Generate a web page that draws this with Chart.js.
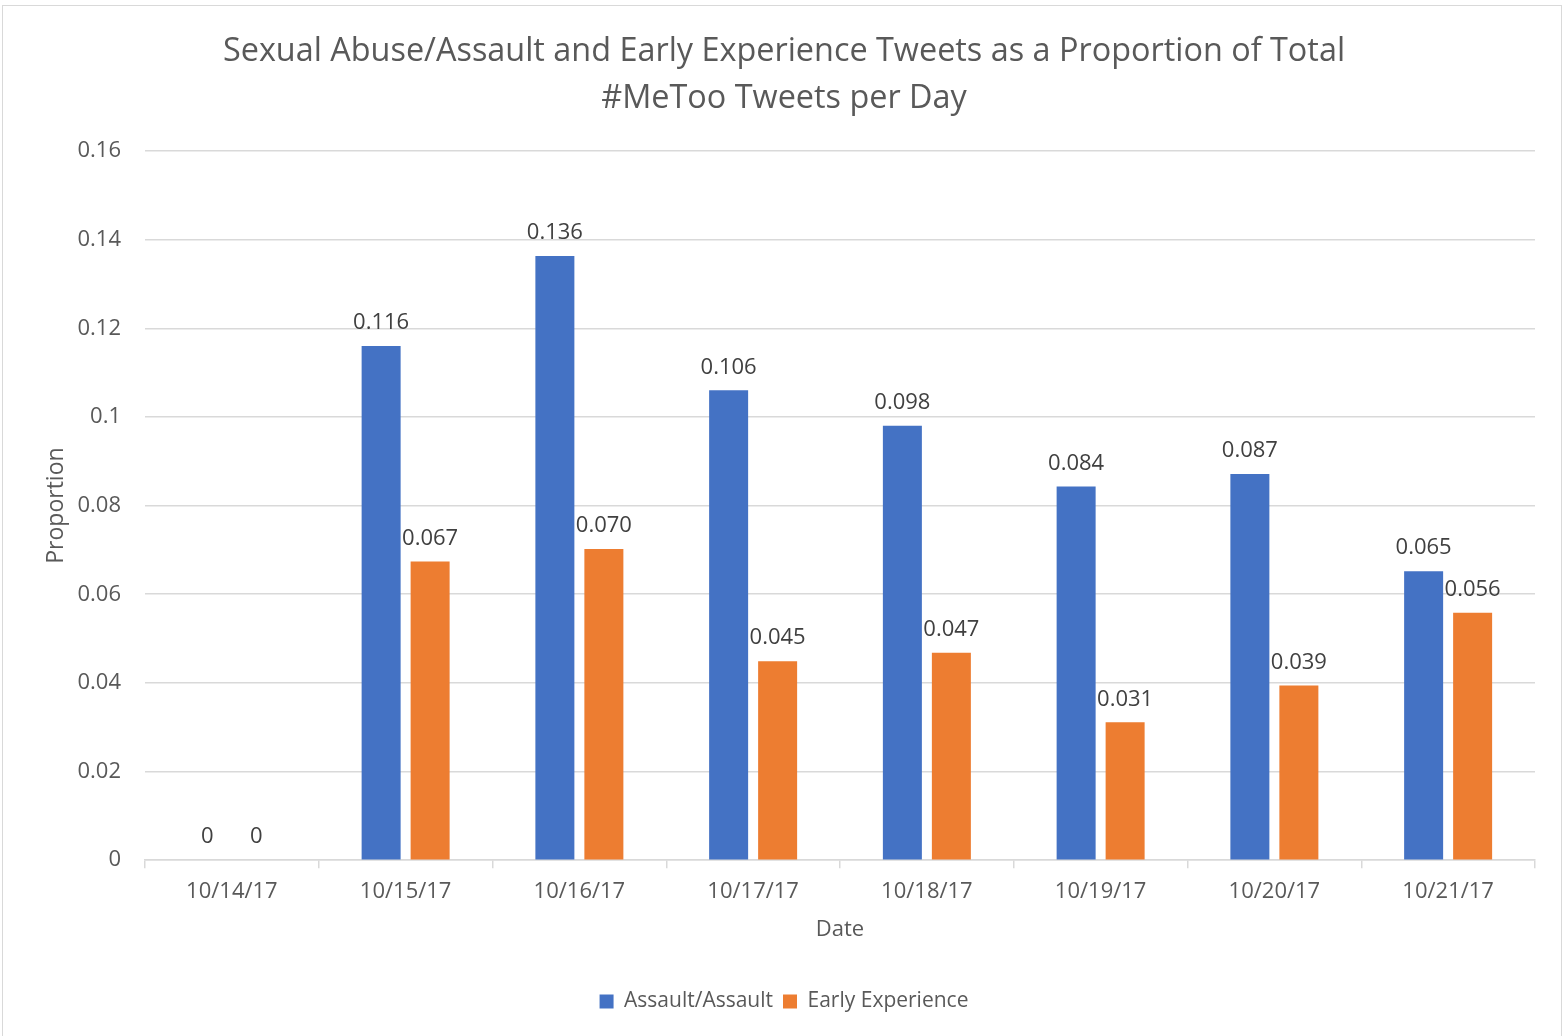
<!DOCTYPE html>
<html>
<head>
<meta charset="utf-8">
<script src="https://cdn.jsdelivr.net/npm/chart.js@4"></script>
<style>
  html, body { margin: 0; padding: 0; background: #ffffff; }
  #wrap { position: absolute; left: 0; top: 0; width: 1568px; height: 1036px; }
  #frame { position: absolute; left: 2px; top: 5px; width: 1560px; height: 1040px; border: 1px solid #d9d9d9; box-sizing: border-box; pointer-events: none; }
</style>
</head>
<body>
<div id="wrap"><canvas id="c"></canvas></div>
<div id="frame"></div>
<script>
const titleLines = ['Sexual Abuse/Assault and Early Experience Tweets as a Proportion of Total', '#MeToo Tweets per Day'];
const categories = ['10/14/17', '10/15/17', '10/16/17', '10/17/17', '10/18/17', '10/19/17', '10/20/17', '10/21/17'];
const seriesNames = ['Assault/Assault', 'Early Experience'];
const assaultValues = [0, 0.116, 0.1363, 0.106, 0.098, 0.0843, 0.0871, 0.0652];
const earlyValues = [0, 0.0674, 0.0702, 0.0449, 0.0468, 0.0311, 0.0394, 0.0558];
const yTickLabels = ['0', '0.02', '0.04', '0.06', '0.08', '0.1', '0.12', '0.14', '0.16'];
const xAxisTitle = 'Date';
const yAxisTitle = 'Proportion';

const FONT = "'Open Sans', 'DejaVu Sans', sans-serif";

const dataLabelPlugin = {
  id: 'dataLabels',
  afterDatasetsDraw(chart) {
    const ctx = chart.ctx;
    ctx.save();
    ctx.font = '22px ' + FONT;
    ctx.fillStyle = '#404040';
    ctx.textAlign = 'center';
    ctx.textBaseline = 'middle';
    chart.data.datasets.forEach((ds, di) => {
      const meta = chart.getDatasetMeta(di);
      meta.data.forEach((el, i) => {
        const v = ds.data[i];
        const txt = v === 0 ? '0' : v.toFixed(3);
        ctx.fillText(txt, el.x, el.y - 23);
      });
    });
    ctx.restore();
  }
};

new Chart(document.getElementById('c'), {
  type: 'bar',
  data: {
    labels: categories,
    datasets: [
      { label: seriesNames[0], data: assaultValues, backgroundColor: '#4472C4', borderWidth: 0,
        categoryPercentage: 0.564, barPercentage: 0.796 },
      { label: seriesNames[1], data: earlyValues, backgroundColor: '#ED7D31', borderWidth: 0,
        categoryPercentage: 0.564, barPercentage: 0.796 }
    ]
  },
  options: {
    responsive: true,
    maintainAspectRatio: false,
    animation: false,
    layout: { padding: { left: 33, right: 33, top: 0, bottom: 14 } },
    plugins: {
      title: {
        display: true,
        text: titleLines,
        color: '#595959',
        font: { family: FONT, size: 32.4, weight: 'normal', lineHeight: 1.45 },
        padding: { top: 28, bottom: 29 }
      },
      legend: {
        display: true,
        position: 'bottom',
        labels: {
          color: '#595959',
          font: { family: FONT, size: 21 },
          boxWidth: 14,
          boxHeight: 14,
          padding: 10
        }
      },
      tooltip: { enabled: false }
    },
    scales: {
      x: {
        grid: { display: true, drawOnChartArea: false, drawTicks: true, tickLength: 8, color: '#d9d9d9', lineWidth: 1.5, offset: true },
        border: { display: true, color: '#d9d9d9', width: 1.5 },
        ticks: { color: '#595959', font: { family: FONT, size: 22 }, padding: 10, maxRotation: 0 },
        title: { display: true, text: xAxisTitle, color: '#595959', font: { family: FONT, size: 22 }, padding: { top: 2, bottom: 38 } }
      },
      y: {
        min: 0,
        max: 0.16,
        ticks: {
          stepSize: 0.02,
          color: '#595959',
          font: { family: FONT, size: 22 },
          padding: 24,
          callback: (v, i) => yTickLabels[i]
        },
        grid: { color: '#d9d9d9', lineWidth: 1.5, drawTicks: false },
        border: { display: false },
        title: { display: true, text: yAxisTitle, color: '#595959', font: { family: FONT, size: 23 }, padding: { top: 10, bottom: 0 } },
        afterFit: (s) => { s.width = 112; }
      }
    }
  },
  plugins: [dataLabelPlugin]
});
</script>
</body>
</html>
